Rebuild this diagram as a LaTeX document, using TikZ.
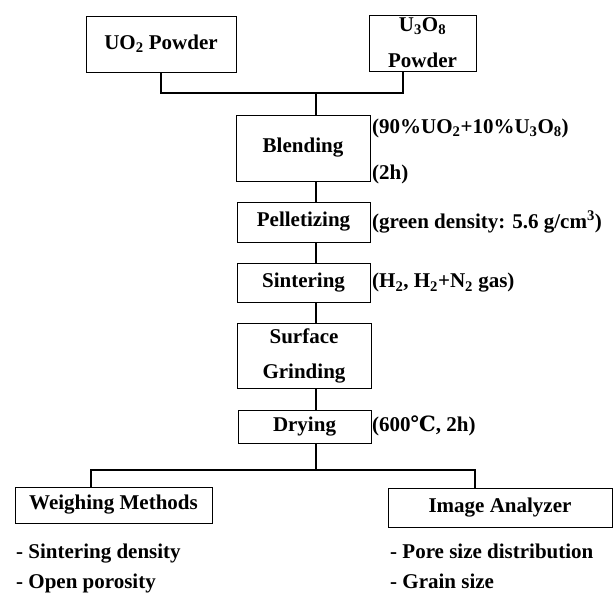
\documentclass[tikz,border=0pt]{standalone}
\usepackage{fontspec}
\setmainfont{Liberation Serif}
\newfontfamily\dejavu{DejaVu Serif}
\begin{document}
\begin{tikzpicture}[x=1pt,y=-1pt,
  every node/.style={font=\bfseries\fontsize{21}{24}\selectfont, inner sep=0pt},
  box/.style={draw, line width=1pt, rectangle, align=center},
  lab/.style={anchor=west},
  bul/.style={anchor=base west},
  conn/.style={line width=1.1pt}]
\clip (0,0) rectangle (613,595);
% top inputs
\node[box, minimum width=150, minimum height=56] (uo) at (161,44) {UO\textsubscript{2} Powder};
\node[box, minimum width=107, minimum height=56] (u3) at (422.5,43) {U\textsubscript{3}O\textsubscript{8}\\[12pt]Powder};
% main chain
\node[box, minimum width=134, minimum height=66] (blend) at (303,148) {Blending};
\node[box, minimum width=133, minimum height=40] (pel) at (303.5,222) {Pelletizing};
\node[box, minimum width=133, minimum height=39] (sin) at (303.5,282.5) {Sintering};
\node[box, minimum width=134, minimum height=65] (sur) at (304,355.5) {Surface\\[11pt]Grinding};
\node[box, minimum width=133, minimum height=33] (dry) at (304.5,426.5) {Drying};
% outputs
\node[box, minimum width=197, minimum height=36] (wm) at (113.5,505) {Weighing Methods};
\node[box, minimum width=224, minimum height=39] (ia) at (500,507.5) {Image Analyzer};
% labels
\node[lab] (l1) at (372,128) {(90\%UO\textsubscript{2}+10\%U\textsubscript{3}O\textsubscript{8})};
\node[lab] (l2) at (372,174) {(2h)};
\node[lab] (l3) at (372,222) {(green density: 5.6 g/cm\textsuperscript{3})};
\node[lab] (l4) at (372,283) {(H\textsubscript{2}, H\textsubscript{2}+N\textsubscript{2} gas)};
\node[lab] (l5) at (372,426) {(600{\dejavu\bfseries ℃}, 2h)};
% bullet lists
\node[bul] (b1) at (16,558) {- Sintering density};
\node[bul] (b2) at (16,588) {- Open porosity};
\node[bul] (b3) at (390,558) {- Pore size distribution};
\node[bul] (b4) at (390,588) {- Grain size};
% connector coordinates
\coordinate (jx) at (316,0);
\coordinate (ux) at (403,0);
\coordinate (top) at (316,93);
\coordinate (bot) at (316,470);
\coordinate (wl) at (91,470);
\coordinate (wr) at (475,470);
% connectors
\draw[conn] (uo.south) |- (top) -| (ux |- u3.south);
\draw[conn] (top) -- (blend.north -| jx);
\draw[conn] (blend.south -| jx) -- (pel.north -| jx);
\draw[conn] (pel.south -| jx) -- (sin.north -| jx);
\draw[conn] (sin.south -| jx) -- (sur.north -| jx);
\draw[conn] (sur.south -| jx) -- (dry.north -| jx);
\draw[conn] (dry.south -| jx) -- (bot);
\draw[conn] (wl |- wm.north) -- (wl) -- (wr) -- (wr |- ia.north);
\end{tikzpicture}
\end{document}
